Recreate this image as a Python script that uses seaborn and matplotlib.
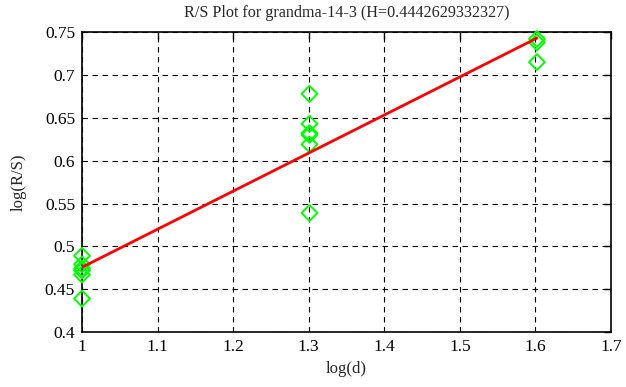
import numpy as np
import pandas as pd
import seaborn as sns
import matplotlib
matplotlib.use("Agg")
from matplotlib import pyplot as plt
import matplotlib.ticker as ticker

# log(d) groups and log(R/S) values
log_d = [1.0] * 6 + [1.30103] * 6 + [1.60206] * 3
log_rs = [0.489, 0.479, 0.474, 0.472, 0.467, 0.439,
          0.678, 0.643, 0.632, 0.630, 0.619, 0.539,
          0.742, 0.738, 0.715]
H = 0.4442629332327
intercept = 0.0313
fit_x = [1.0, 1.60206]

df = pd.DataFrame({"log(d)": log_d, "log(R/S)": log_rs})
fit = pd.DataFrame({"x": fit_x, "y": [H * v + intercept for v in fit_x]})

sns.set_style("white")
plt.rcParams["font.family"] = ["Liberation Serif", "DejaVu Serif"]
plt.rcParams["font.size"] = 12

fig = plt.figure(figsize=(6.26, 3.87), dpi=100)
ax = fig.add_axes([0.131, 0.142, 0.845, 0.775])

sns.scatterplot(data=df, x="log(d)", y="log(R/S)", ax=ax, marker="D",
                s=65, facecolor="none", edgecolor="#00ff00", linewidth=1.4,
                zorder=3, clip_on=False)
sns.lineplot(data=fit, x="x", y="y", ax=ax, color="red", linewidth=2,
             zorder=4)

ax.set_xlim(1, 1.7)
ax.set_ylim(0.4, 0.75)
ax.xaxis.set_major_locator(ticker.MultipleLocator(0.1))
ax.yaxis.set_major_locator(ticker.MultipleLocator(0.05))
ax.xaxis.set_major_formatter(ticker.FormatStrFormatter("%g"))
ax.yaxis.set_major_formatter(ticker.FormatStrFormatter("%g"))
ax.grid(True, color="black", linestyle=(0, (5, 4)), linewidth=0.8)
ax.tick_params(direction="in", top=True, right=True, length=5,
               width=1, colors="black", labelsize=12.5, pad=5)
for s in ax.spines.values():
    s.set_color("black")
    s.set_linewidth(1.2)

ax.set_xlabel("log(d)", fontsize=12, labelpad=4)
ax.set_ylabel("log(R/S)", fontsize=12, labelpad=13)
ax.set_title("R/S Plot for grandma-14-3 (H=0.4442629332327)", fontsize=11.6,
             pad=11)

fig.savefig("out.png", dpi=100)
